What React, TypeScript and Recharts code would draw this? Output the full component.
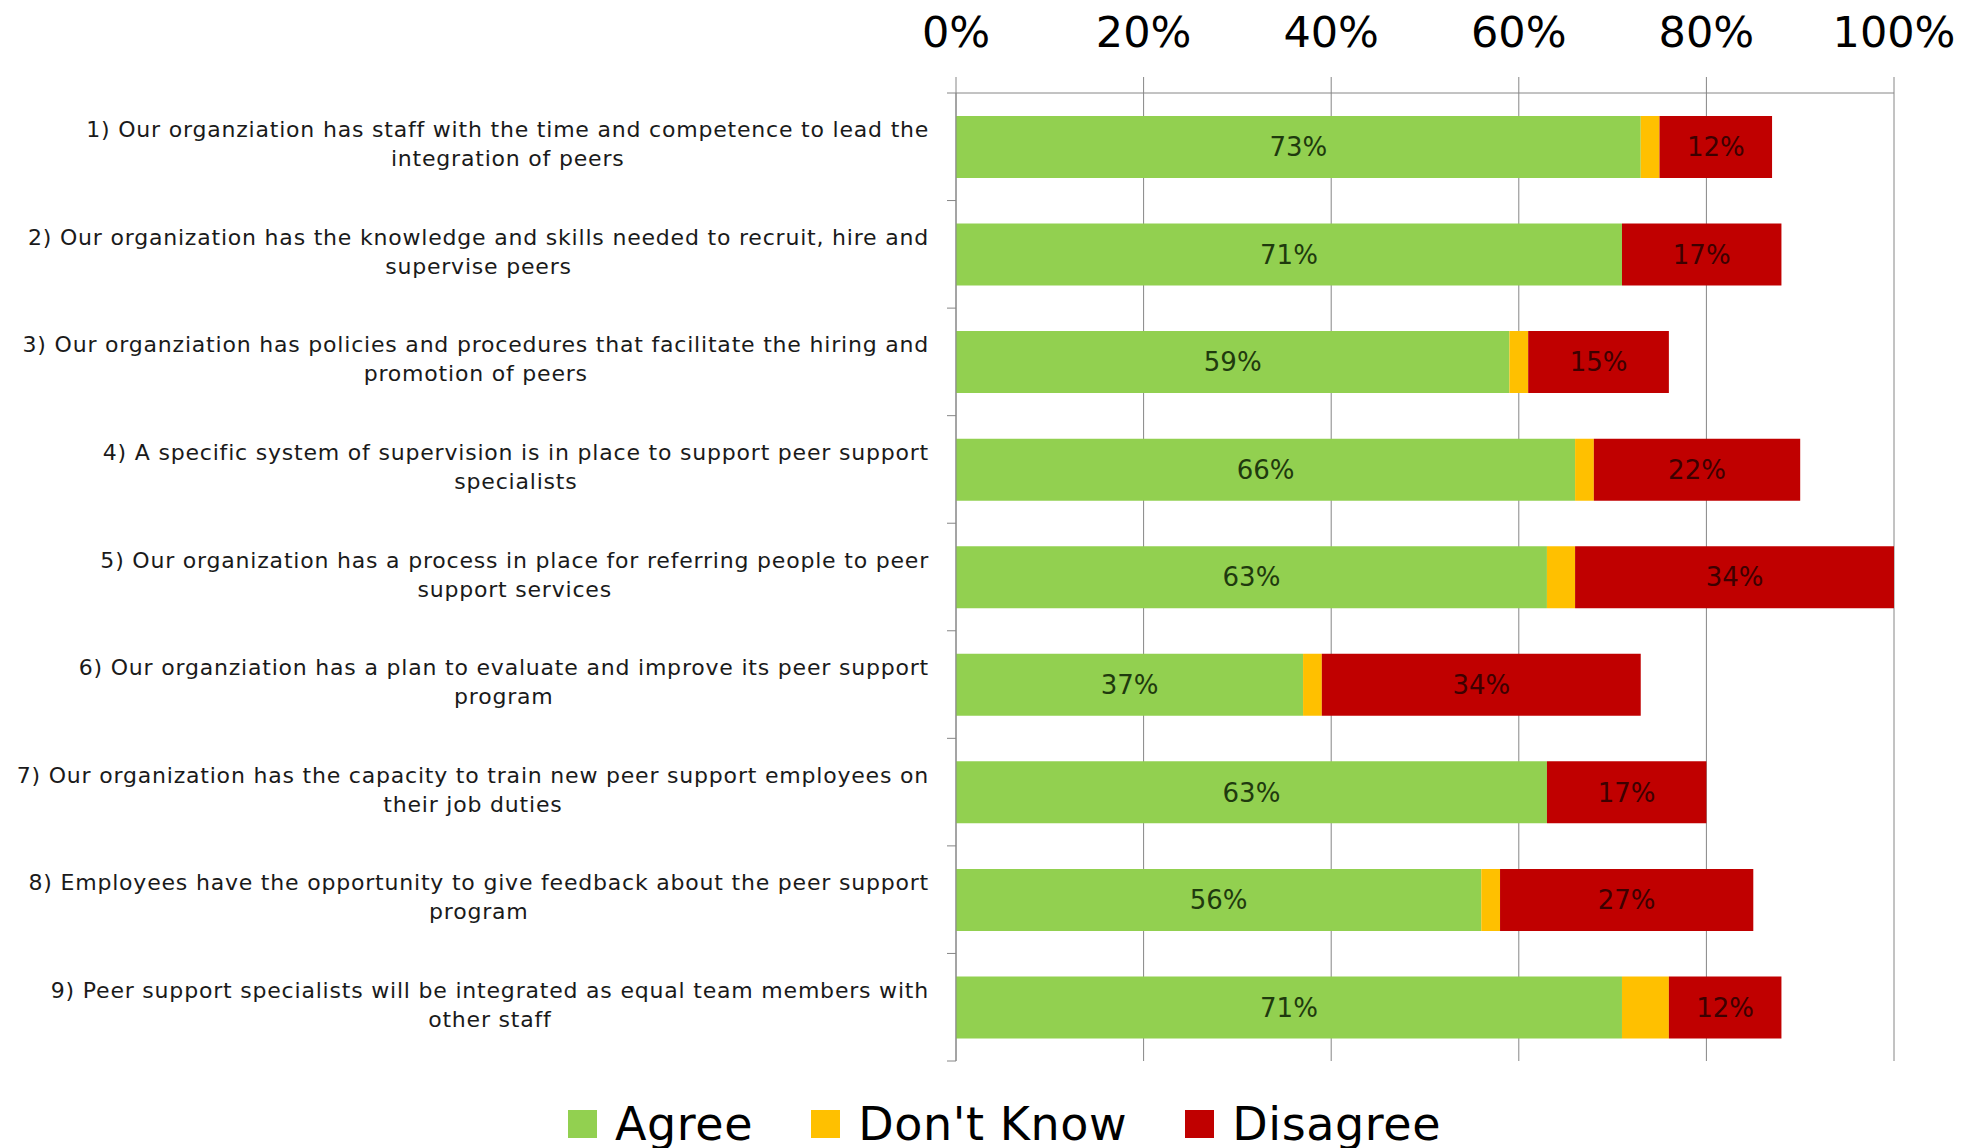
import { Bar, BarChart, CartesianGrid, LabelList, Legend, XAxis, YAxis } from "recharts";

const questionLines: string[][] = [
  ["1) Our organziation has staff with the time and competence to lead the", "integration of peers"],
  ["2) Our organization has the knowledge and skills needed to recruit, hire and", "supervise peers"],
  ["3) Our organziation has policies and procedures that facilitate the hiring and", "promotion of peers"],
  ["4) A specific system of supervision is in place to support peer support", "specialists"],
  ["5) Our organization has a process in place for referring people to peer", "support services"],
  ["6) Our organziation has a plan to evaluate and improve its peer support", "program"],
  ["7) Our organization has the capacity to train new peer support employees on", "their job duties"],
  ["8) Employees have the opportunity to give feedback about the peer support", "program"],
  ["9) Peer support specialists will be integrated as equal team members with", "other staff"],
];

const agree = [73, 71, 59, 66, 63, 37, 63, 56, 71];
const dontKnow = [2, 0, 2, 2, 3, 2, 0, 2, 5];
const disagree = [12, 17, 15, 22, 34, 34, 17, 27, 12];

const percentTicks = [0, 20, 40, 60, 80, 100];

const SERIES = [
  { key: "agree", name: "Agree", color: "#92D050" },
  { key: "dontKnow", name: "Don't Know", color: "#FFC000" },
  { key: "disagree", name: "Disagree", color: "#C00000" },
];

const FONT = "'DejaVu Sans', sans-serif";
const GRID = "#868686";
const WIDTH = 1969;
const HEIGHT = 1148;
const MARGIN = { top: 0, right: 75, bottom: 87, left: 0 };
const X_AXIS_H = 93;
const Y_AXIS_W = 956;
const LABEL_FONT = 22;
const LABEL_SPACING = 0.8;
const LABEL_GAP = 27;

const data = questionLines.map((lines, i) => ({
  question: lines.join(" "),
  agree: agree[i],
  dontKnow: dontKnow[i],
  disagree: disagree[i],
}));

let ctx: CanvasRenderingContext2D | null = null;
function textWidth(s: string) {
  if (!ctx) ctx = document.createElement("canvas").getContext("2d");
  if (!ctx) return s.length * LABEL_FONT * 0.6;
  ctx.font = `${LABEL_FONT}px 'DejaVu Sans'`;
  return ctx.measureText(s).width + s.length * LABEL_SPACING;
}

// two-line question label, lines centred on each other, block right-aligned
function QuestionTick(props: any) {
  const { x, y, index } = props;
  const lines = questionLines[index] ?? [];
  const blockW = Math.max(...lines.map(textWidth));
  const cx = x - blockW / 2;
  const lineH = 29;
  const band = (HEIGHT - MARGIN.bottom - X_AXIS_H) / questionLines.length;
  const axisX = x + LABEL_GAP;
  return (
    <g>
      {index === 0 && <line x1={axisX - 9} x2={axisX} y1={y - band / 2} y2={y - band / 2} stroke={GRID} />}
      <line x1={axisX - 9} x2={axisX} y1={y + band / 2} y2={y + band / 2} stroke={GRID} />
      <text
        x={cx}
        y={y}
        textAnchor="middle"
        fontSize={LABEL_FONT}
        fontFamily={FONT}
        fill="#1a1a1a"
        style={{ letterSpacing: `${LABEL_SPACING}px` }}
      >
        {lines.map((l, i) => (
          <tspan key={i} x={cx} dy={i === 0 ? -lineH * ((lines.length - 1) / 2) + 5 : lineH}>
            {l}
          </tspan>
        ))}
      </text>
    </g>
  );
}

function LegendBox() {
  return (
    <div
      style={{
        display: "flex",
        alignItems: "center",
        fontFamily: FONT,
        fontSize: 46,
        letterSpacing: "0.6px",
        color: "#000",
        lineHeight: "52px",
        whiteSpace: "nowrap",
      }}
    >
      {SERIES.map((s, i) => (
        <div key={s.key} style={{ display: "flex", alignItems: "center", marginLeft: i === 0 ? 0 : 58 }}>
          <span style={{ width: 29, height: 28, background: s.color, display: "inline-block", marginRight: 18 }} />
          <span>{s.name}</span>
        </div>
      ))}
    </div>
  );
}

export default function App() {
  return (
    <div style={{ position: "absolute", left: 0, top: 0, background: "#fff" }}>
      <BarChart
        width={WIDTH}
        height={HEIGHT}
        data={data}
        layout="vertical"
        margin={MARGIN}
        barSize={62}
        style={{ fontFamily: FONT }}
      >
        <CartesianGrid horizontal={false} stroke={GRID} />
        <XAxis
          type="number"
          orientation="top"
          domain={[0, 100]}
          ticks={percentTicks}
          tickFormatter={(v) => `${v}%`}
          height={X_AXIS_H}
          tickSize={16}
          tickMargin={30}
          axisLine={{ stroke: GRID }}
          tickLine={{ stroke: GRID }}
          tick={{ fill: "#000", fontSize: 43, fontFamily: FONT }}
          interval={0}
        />
        <YAxis
          type="category"
          dataKey="question"
          width={Y_AXIS_W}
          tick={<QuestionTick />}
          tickSize={0}
          tickMargin={LABEL_GAP}
          tickLine={false}
          axisLine={{ stroke: GRID }}
          interval={0}
        />
        <Legend
          verticalAlign="middle"
          align="center"
          layout="horizontal"
          content={() => <LegendBox />}
          wrapperStyle={{ top: 1098, left: 568, width: "auto" }}
        />
        {SERIES.map((s) => (
          <Bar key={s.key} dataKey={s.key} name={s.name} stackId="a" fill={s.color} isAnimationActive={false}>
            {s.key !== "dontKnow" && (
              <LabelList
                dataKey={s.key}
                position="center"
                formatter={(v: any) => `${v}%`}
                fill={s.key === "agree" ? "#1f3a0e" : "#3d0000"}
                fontSize={26}
                fontFamily={FONT}
              />
            )}
          </Bar>
        ))}
      </BarChart>
    </div>
  );
}
